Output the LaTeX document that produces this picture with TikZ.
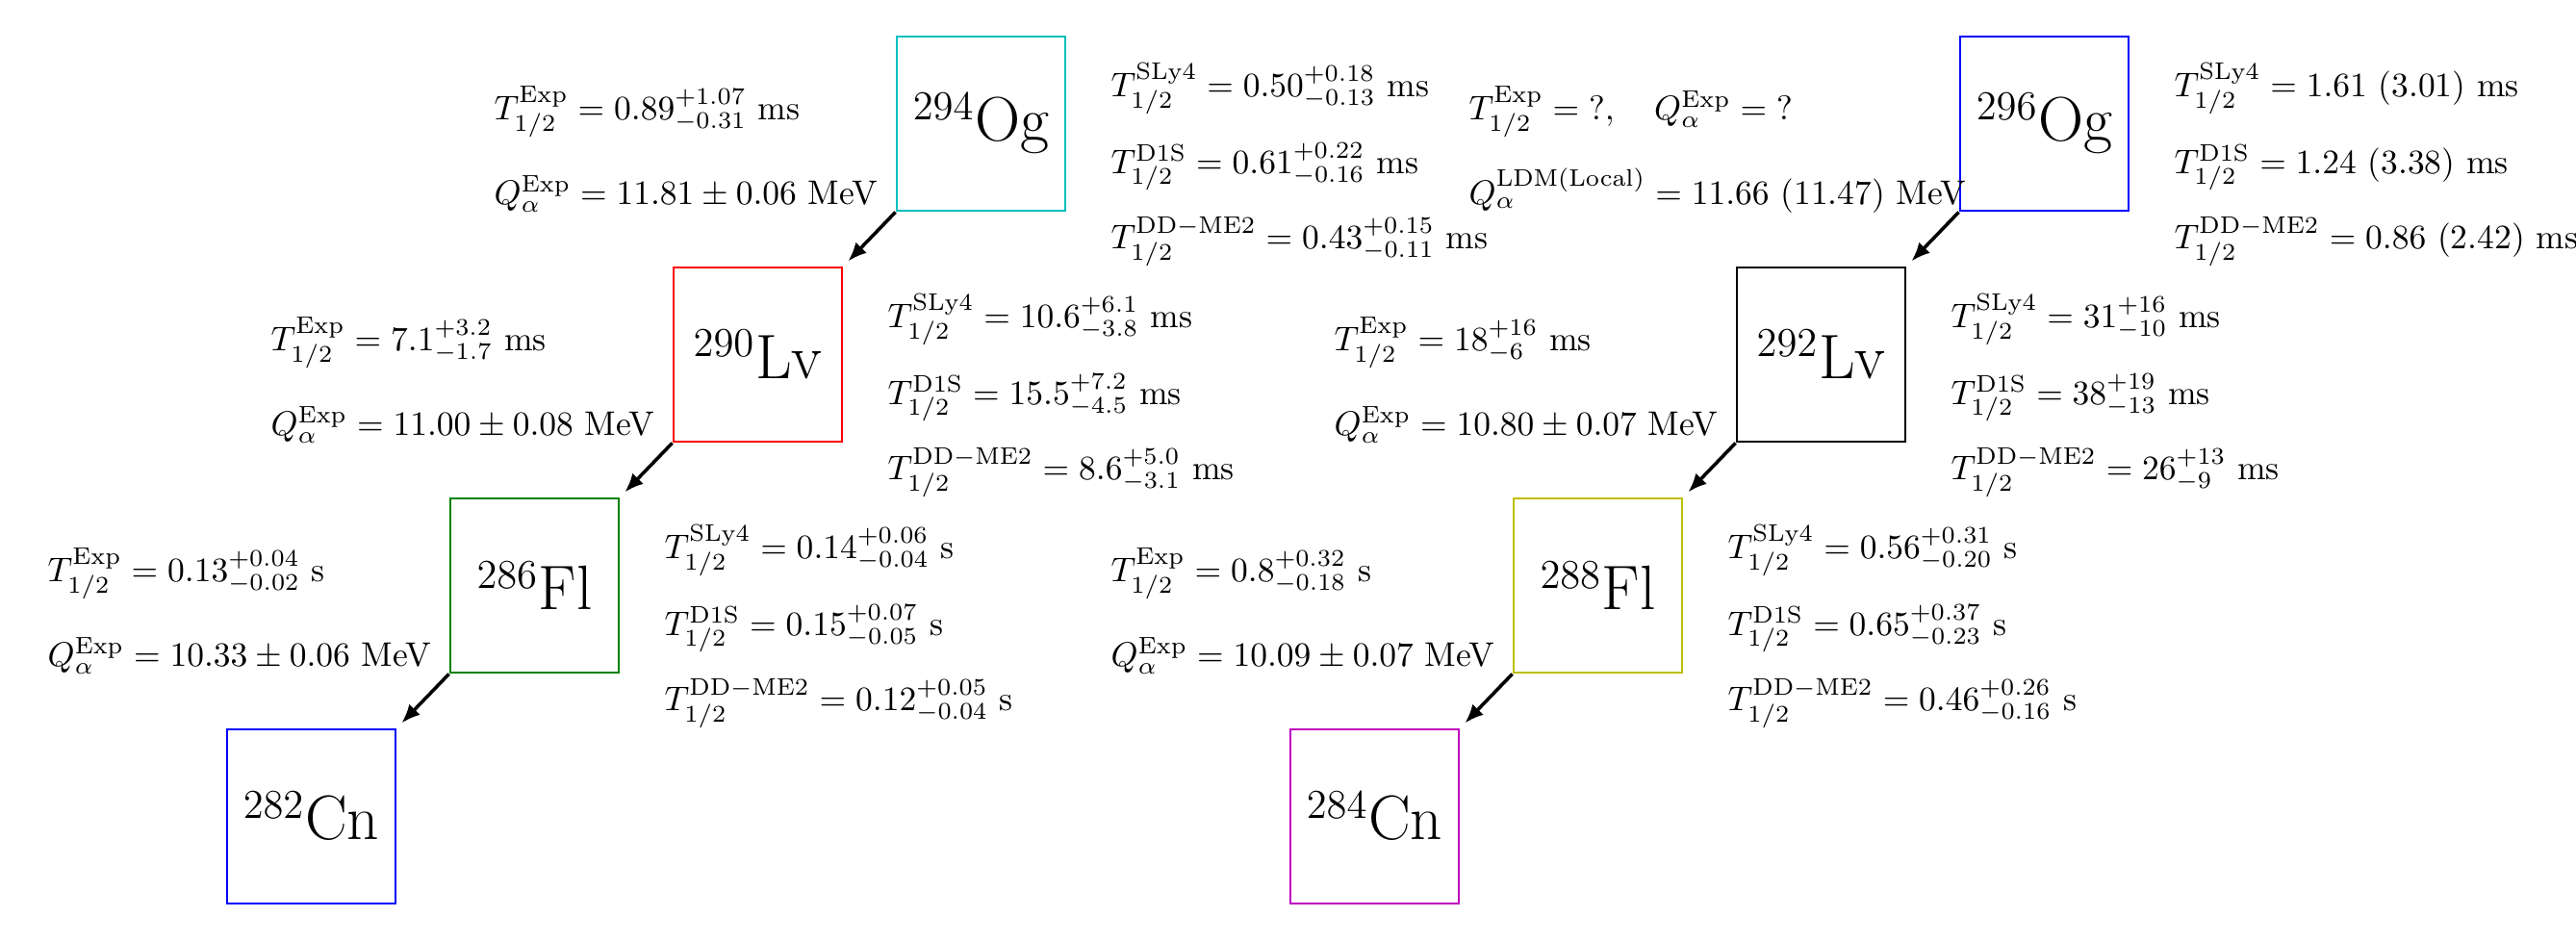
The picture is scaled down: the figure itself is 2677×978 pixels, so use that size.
\documentclass[tikz,border=0pt]{standalone}
\usetikzlibrary{arrows.meta}
\definecolor{mc}{rgb}{0,0.75,0.75}
\definecolor{mr}{rgb}{1,0,0}
\definecolor{mg}{rgb}{0,0.5,0}
\definecolor{mb}{rgb}{0,0,1}
\definecolor{my}{rgb}{0.75,0.75,0}
\definecolor{mm}{rgb}{0.75,0,0.75}
\tikzset{
  nuc/.style={draw, line width=0.8pt, minimum width=49.3pt, minimum height=51pt, inner sep=0pt, font=\fontsize{18.4}{22}\selectfont},
  lbl/.style={anchor=base west, inner sep=0pt},
  decay/.style={-{Latex[length=5.5pt,width=4.5pt]}, line width=1pt, shorten >=2pt}
}
\begin{document}
\begin{tikzpicture}[x=0.2817pt,y=-0.2817pt]
\useasboundingbox (0,0) rectangle (2677,978);
% boxes
\node[nuc, mc] (og294) at (1019.5,128.5) {\textcolor{black}{$^{294}$Og}};
\node[nuc, mr] (lv290) at (787.5,368.5) {\textcolor{black}{$^{290}$Lv}};
\node[nuc, mg] (fl286) at (555.5,608.5) {\textcolor{black}{$^{286}$Fl}};
\node[nuc, mb] (cn282) at (323.5,848.5) {\textcolor{black}{$^{282}$Cn}};
\node[nuc, mb] (og296) at (2124.5,128.5) {\textcolor{black}{$^{296}$Og}};
\node[nuc, black] (lv292) at (1892.5,368.5) {$^{292}$Lv};
\node[nuc, my] (fl288) at (1660.5,608.5) {\textcolor{black}{$^{288}$Fl}};
\node[nuc, mm] (cn284) at (1428.5,848.5) {\textcolor{black}{$^{284}$Cn}};
% arrows
\draw[decay] (og294.south west) -- (lv290.north east);
\draw[decay] (lv290.south west) -- (fl286.north east);
\draw[decay] (fl286.south west) -- (cn282.north east);
\draw[decay] (og296.south west) -- (lv292.north east);
\draw[decay] (lv292.south west) -- (fl288.north east);
\draw[decay] (fl288.south west) -- (cn284.north east);
% 294Og texts
\node[lbl] (a1) at (513,124) {$T^{\rm Exp}_{1/2} = 0.89^{+1.07}_{-0.31}$ ms};
\node[lbl] (a2) at (513,212) {$Q^{\rm Exp}_{\alpha} = 11.81 \pm 0.06$ MeV};
\node[lbl] (a3) at (1154,100) {$T^{\rm SLy4}_{1/2} = 0.50^{+0.18}_{-0.13}$ ms};
\node[lbl] (a4) at (1154,180) {$T^{\rm D1S}_{1/2} = 0.61^{+0.22}_{-0.16}$ ms};
\node[lbl] (a5) at (1154,258) {$T^{\rm DD-ME2}_{1/2} = 0.43^{+0.15}_{-0.11}$ ms};
% 290Lv texts
\node[lbl] (b1) at (281,364) {$T^{\rm Exp}_{1/2} = 7.1^{+3.2}_{-1.7}$ ms};
\node[lbl] (b2) at (281,452) {$Q^{\rm Exp}_{\alpha} = 11.00 \pm 0.08$ MeV};
\node[lbl] (b3) at (922,340) {$T^{\rm SLy4}_{1/2} = 10.6^{+6.1}_{-3.8}$ ms};
\node[lbl] (b4) at (922,420) {$T^{\rm D1S}_{1/2} = 15.5^{+7.2}_{-4.5}$ ms};
\node[lbl] (b5) at (922,498) {$T^{\rm DD-ME2}_{1/2} = 8.6^{+5.0}_{-3.1}$ ms};
% 286Fl texts
\node[lbl] (c1) at (49,604) {$T^{\rm Exp}_{1/2} = 0.13^{+0.04}_{-0.02}$ s};
\node[lbl] (c2) at (49,692) {$Q^{\rm Exp}_{\alpha} = 10.33 \pm 0.06$ MeV};
\node[lbl] (c3) at (690,580) {$T^{\rm SLy4}_{1/2} = 0.14^{+0.06}_{-0.04}$ s};
\node[lbl] (c4) at (690,660) {$T^{\rm D1S}_{1/2} = 0.15^{+0.07}_{-0.05}$ s};
\node[lbl] (c5) at (690,738) {$T^{\rm DD-ME2}_{1/2} = 0.12^{+0.05}_{-0.04}$ s};
% 296Og texts
\node[lbl] (e1) at (1526,124) {$T^{\rm Exp}_{1/2} = {?},\quad Q^{\rm Exp}_{\alpha} = {?}$};
\node[lbl] (e2) at (1526,212) {$Q^{\rm LDM(Local)}_{\alpha} = 11.66$ (11.47) MeV};
\node[lbl] (e3) at (2259,100) {$T^{\rm SLy4}_{1/2} = 1.61$ (3.01) ms};
\node[lbl] (e4) at (2259,180) {$T^{\rm D1S}_{1/2} = 1.24$ (3.38) ms};
\node[lbl] (e5) at (2259,258) {$T^{\rm DD-ME2}_{1/2} = 0.86$ (2.42) ms};
% 292Lv texts
\node[lbl] (f1) at (1386,364) {$T^{\rm Exp}_{1/2} = 18^{+16}_{-6}$ ms};
\node[lbl] (f2) at (1386,452) {$Q^{\rm Exp}_{\alpha} = 10.80 \pm 0.07$ MeV};
\node[lbl] (f3) at (2027,340) {$T^{\rm SLy4}_{1/2} = 31^{+16}_{-10}$ ms};
\node[lbl] (f4) at (2027,420) {$T^{\rm D1S}_{1/2} = 38^{+19}_{-13}$ ms};
\node[lbl] (f5) at (2027,498) {$T^{\rm DD-ME2}_{1/2} = 26^{+13}_{-9}$ ms};
% 288Fl texts
\node[lbl] (g1) at (1154,604) {$T^{\rm Exp}_{1/2} = 0.8^{+0.32}_{-0.18}$ s};
\node[lbl] (g2) at (1154,692) {$Q^{\rm Exp}_{\alpha} = 10.09 \pm 0.07$ MeV};
\node[lbl] (g3) at (1795,580) {$T^{\rm SLy4}_{1/2} = 0.56^{+0.31}_{-0.20}$ s};
\node[lbl] (g4) at (1795,660) {$T^{\rm D1S}_{1/2} = 0.65^{+0.37}_{-0.23}$ s};
\node[lbl] (g5) at (1795,738) {$T^{\rm DD-ME2}_{1/2} = 0.46^{+0.26}_{-0.16}$ s};
\end{tikzpicture}
\end{document}
